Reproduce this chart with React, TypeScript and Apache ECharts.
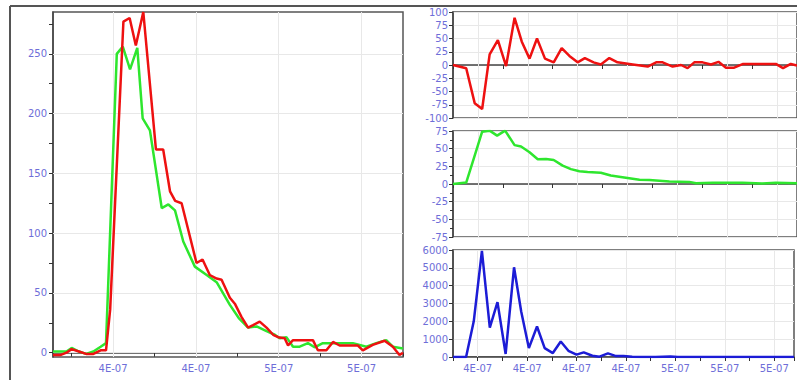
import React, { useEffect, useRef } from 'react';
import * as echarts from 'echarts';

// time in ns
const leftRed: [number, number][] = [
  [351, -2], [354.5, -2], [357.5, 0], [360, 3], [363.5, 1], [367, -1], [370.5, -1], [374, 2], [376.6, 2],
  [378.6, 36], [385, 277], [388, 280], [391, 257], [394.6, 285], [400.7, 170], [404.2, 170], [407.5, 135],
  [410, 127], [413.1, 125], [420.3, 75], [423.2, 78], [426.7, 65], [430, 62], [432.4, 61], [436.4, 46],
  [438.8, 41], [442, 30], [445.2, 21], [447.6, 23], [450.8, 26], [454.1, 21], [457.3, 15], [459.7, 13],
  [462.9, 12], [464.5, 6], [466.9, 10.5], [471.7, 10.5], [476.5, 10.5], [478.9, 2], [483, 2], [486.2, 9],
  [489.4, 6], [498.2, 6], [500.6, 2], [505.4, 6.5], [511.1, 10], [515.1, 5], [518.3, -2], [520, 0],
];

const leftGreen: [number, number][] = [
  [351, 1], [354.5, 1], [357.5, 1], [360, 4], [363.5, 1], [367, -1], [370.5, 1], [374, 5], [376.6, 8],
  [381.8, 250], [384.7, 256], [388.2, 237], [391.7, 255], [394.3, 196], [397.8, 186], [403.5, 121],
  [406.7, 124], [409.9, 119], [413.9, 93], [419.5, 72], [425.2, 65], [430, 59], [436.4, 40], [440.7, 29],
  [445.2, 21], [449.3, 22], [454.1, 18], [458.1, 15], [460.5, 12], [463.7, 13], [466.9, 5], [470.1, 5],
  [474.1, 8], [477.3, 4.5], [481.3, 8], [489.4, 8], [495.8, 8], [502.3, 5], [507.1, 8], [511.9, 10.5],
  [515.1, 5], [520, 3.5],
];

const rightRed: [number, number][] = [
  [370, 0], [375.3, -6], [378.7, -72], [381.7, -83], [384.7, 20], [388, 47], [391.3, -2], [394.7, 89],
  [397.6, 44], [400.7, 12], [403.7, 50], [406.9, 12], [410.4, 5], [413.6, 32], [416.7, 17], [420, 5],
  [422.9, 13], [426.4, 5], [429.3, 1], [432.7, 13], [436, 5], [442.1, 1], [448.1, -3], [451.5, 5],
  [454.1, 5], [458.1, -3], [461.5, 0], [464.1, -6], [466.8, 5], [470.1, 5], [473.5, 1], [476.5, 6],
  [479.5, -5], [482.8, -5], [486.4, 2], [492.8, 2], [499.5, 2], [502.4, -6], [505.5, 2], [508, -1],
];

const rightGreen: [number, number][] = [
  [370, 0], [375.3, 2], [378.7, 40], [381.7, 74], [384.7, 75.5], [387.7, 68.5], [390.9, 75.5],
  [394.7, 55], [397.3, 53], [400.7, 45], [404, 35], [407.3, 35.5], [410.4, 34], [414, 26], [417.3, 21],
  [420.7, 18], [424, 17], [429.3, 16], [433.3, 12], [437.3, 10], [444.8, 6], [448.8, 5.5], [456.8, 3.6],
  [464.8, 3], [467.5, 1], [474.1, 1.6], [486.1, 1.6], [494.1, 0.8], [499.5, 1.6], [508, 1],
];

const rightBlue: [number, number][] = [
  [370, 0], [375.3, 0], [378.4, 2000], [381.7, 5950], [384.9, 1650], [388, 3080], [391.3, 170],
  [394.7, 5030], [397.6, 2550], [400.7, 500], [404, 1710], [407.1, 500], [410.4, 220], [413.6, 870],
  [416.7, 350], [420, 130], [422.9, 260], [426.4, 70], [429.3, 20], [432.7, 200], [436, 50], [439, 60],
  [442.5, 15], [446, 0], [452, 0], [458, 30], [461, 0], [508, 0],
];

const leftXTicks = [360, 380, 400, 420, 440, 460, 480, 500, 520];
const leftXLabels = [380, 420, 460, 500];
const leftYTicks = [0, 25, 50, 75, 100, 125, 150, 175, 200, 225, 250, 275];
const leftYLabels = [0, 50, 100, 150, 200, 250];
const rightXLabels = [380, 400, 420, 440, 460, 480, 500];

const fmtTime = (v: number) => `${Math.round(v / 100)}E-07`;
const fmtPlain = (v: number) => String(Math.round(v));

const LABEL_COLOR = '#6e6ed8';
const AXIS_COLOR = '#444';
const GRID_COLOR = '#e8e8e8';
const FONT = 'DejaVu Sans';

export default function App() {
  const ref = useRef<HTMLDivElement>(null);
  useEffect(() => {
    const chart = echarts.init(ref.current!, null, { renderer: 'svg' });
    const axisLine = { show: true, lineStyle: { color: AXIS_COLOR, width: 1.5 } };
    const tick = { show: true, length: 4, lineStyle: { color: '#333', width: 1 } };
    const label = { color: LABEL_COLOR, fontSize: 10, fontFamily: FONT };
    const gridLine = (data: any[]) => ({
      silent: true,
      z: 1,
      symbol: ['none', 'none'],
      label: { show: false },
      lineStyle: { color: GRID_COLOR, width: 1, type: 'solid' },
      emphasis: { disabled: true },
      data,
    });
    const rightX = (gi: number, showLabel: boolean) => ({
      type: 'value',
      gridIndex: gi,
      min: 370,
      max: 508,
      interval: 10,
      axisLine,
      axisTick: tick,
      axisLabel: {
        show: showLabel,
        ...label,
        margin: 6,
        formatter: (v: number) => (Math.round(v) % 20 === 0 ? fmtTime(v) : ''),
      },
      splitLine: { show: false },
    });
    const rightY = (gi: number, min: number, max: number, interval: number, minor: boolean) => ({
      type: 'value',
      gridIndex: gi,
      min,
      max,
      interval,
      axisLine,
      axisTick: tick,
      minorTick: { show: minor, splitNumber: 2, length: 3, lineStyle: { color: '#333' } },
      axisLabel: { ...label, margin: 5, formatter: fmtPlain },
      splitLine: { show: true, lineStyle: { color: GRID_COLOR, width: 1 } },
    });
    const gridBox = { show: true, borderColor: '#555', borderWidth: 1.5, backgroundColor: '#fff' };
    const option: any = {
      animation: false,
      backgroundColor: '#fff',
      grid: [
        { left: 53, top: 12, width: 350, height: 345, ...gridBox },
        { left: 453, top: 12, width: 346, height: 106, ...gridBox },
        { left: 453, top: 131, width: 346, height: 106, ...gridBox },
        { left: 453, top: 250, width: 346, height: 107, ...gridBox },
      ],
      xAxis: [
        {
          type: 'value',
          gridIndex: 0,
          min: 351,
          max: 520,
          axisLine,
          axisTick: { ...tick, customValues: leftXTicks },
          axisLabel: { ...label, margin: 6, customValues: leftXLabels, formatter: fmtTime },
          splitLine: { show: false },
        },
        rightX(1, false),
        rightX(2, false),
        rightX(3, true),
      ],
      yAxis: [
        {
          type: 'value',
          gridIndex: 0,
          min: -3.6,
          max: 285,
          axisLine,
          axisTick: { ...tick, customValues: leftYTicks },
          axisLabel: { ...label, margin: 6, customValues: leftYLabels, formatter: fmtPlain },
          splitLine: { show: false },
        },
        rightY(1, -100, 100, 25, false),
        rightY(2, -75, 75, 25, true),
        rightY(3, 0, 6000, 1000, false),
      ],
      graphic: [
        { type: 'line', shape: { x1: 10, y1: 6, x2: 797, y2: 6 }, style: { stroke: '#555', lineWidth: 2 }, z: 100 },
        { type: 'line', shape: { x1: 10, y1: 6, x2: 10, y2: 380 }, style: { stroke: '#555', lineWidth: 2 }, z: 100 },
      ],
      series: [
        {
          type: 'line',
          xAxisIndex: 0,
          yAxisIndex: 0,
          data: leftGreen,
          showSymbol: false,
          lineStyle: { color: '#2ee62e', width: 2.5 },
          markLine: gridLine([
            ...leftXLabels.map((v) => ({ xAxis: v })),
            ...leftYLabels.map((v) => ({ yAxis: v })),
          ]),
        },
        {
          type: 'line',
          xAxisIndex: 0,
          yAxisIndex: 0,
          data: leftRed,
          showSymbol: false,
          lineStyle: { color: '#ee1111', width: 2.5 },
        },
        {
          type: 'line',
          xAxisIndex: 1,
          yAxisIndex: 1,
          data: rightRed,
          showSymbol: false,
          lineStyle: { color: '#ee1111', width: 2.5 },
          markLine: gridLine(rightXLabels.map((v) => ({ xAxis: v }))),
        },
        {
          type: 'line',
          xAxisIndex: 2,
          yAxisIndex: 2,
          data: rightGreen,
          showSymbol: false,
          lineStyle: { color: '#2ee62e', width: 2.5 },
          markLine: gridLine(rightXLabels.map((v) => ({ xAxis: v }))),
        },
        {
          type: 'line',
          xAxisIndex: 3,
          yAxisIndex: 3,
          data: rightBlue,
          showSymbol: false,
          lineStyle: { color: '#1c1cd6', width: 2.5 },
          markLine: gridLine(rightXLabels.map((v) => ({ xAxis: v }))),
        },
      ],
    };
    chart.setOption(option);
    return () => chart.dispose();
  }, []);
  return (
    <div
      ref={ref}
      style={{ position: 'fixed', left: 0, top: 0, width: 797, height: 380, background: '#fff' }}
    />
  );
}
